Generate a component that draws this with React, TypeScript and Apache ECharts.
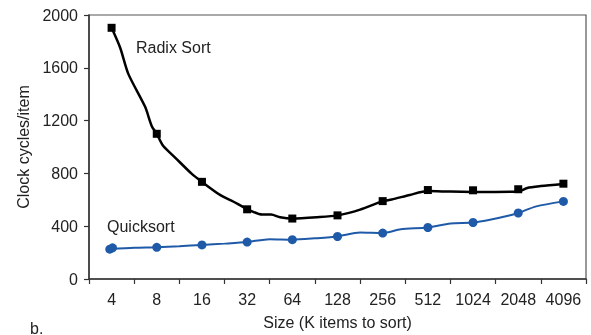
import React, { useEffect, useRef } from "react";
import * as echarts from "echarts";

const categories = ["4", "8", "16", "32", "64", "128", "256", "512", "1024", "2048", "4096"];
const yTicks = [0, 400, 800, 1200, 1600, 2000];

// markers at each category index
const radixMarkers: [number, number][] = [
  [0, 1903], [1, 1100], [2, 736], [3, 528], [4, 458], [5, 482],
  [6, 590], [7, 674], [8, 672], [9, 680], [10, 722],
];
const quickMarkers: [number, number][] = [
  [-0.04, 226], [0.02, 236], [1, 240], [2, 258], [3, 280], [4, 298], [5, 322],
  [6, 348], [7, 390], [8, 428], [9, 500], [10, 588],
];
// curve traces
const radixCurve: [number, number][] = [
  [0, 1903], [0.19, 1752], [0.37, 1554], [0.74, 1306], [0.89, 1158], [1, 1100],
  [1.14, 1009], [1.4, 922], [1.77, 798], [2, 736], [2.4, 637], [2.69, 587],
  [3, 530], [3.33, 488], [3.53, 488], [3.73, 468], [4, 458], [4.55, 468],
  [5, 482], [5.5, 526], [6, 590], [6.2, 602], [6.6, 637], [7, 666], [7.5, 662],
  [8, 660], [8.5, 660], [9, 662], [9.2, 690], [9.5, 704], [10, 720],
];
const quickCurve: [number, number][] = [
  [-0.04, 226], [0.5, 236], [1, 240], [1.5, 248], [2, 258], [2.5, 268], [3, 280],
  [3.5, 302], [4, 298], [4.5, 308], [5, 322], [5.5, 352], [6, 348], [6.4, 377],
  [7, 390], [7.5, 421], [8, 428], [8.4, 451], [8.8, 481], [9, 500], [9.4, 550],
  [10, 588],
];

const FONT = "Liberation Sans";
const TXT = "#222";
const FS = 16;

export default function App() {
  const ref = useRef<HTMLDivElement>(null);
  useEffect(() => {
    if (!ref.current) return;
    const chart = echarts.init(ref.current, undefined, { renderer: "svg" });
    chart.setOption({
      animation: false,
      textStyle: { fontFamily: FONT },
      grid: {
        left: 89, right: 5, top: 15, bottom: 51,
        show: true, borderColor: "#555", borderWidth: 1.2,
      },
      xAxis: [
        {
          type: "category",
          data: categories,
          boundaryGap: true,
          name: "Size (K items to sort)",
          nameLocation: "middle",
          nameGap: 35,
          nameTextStyle: { fontSize: FS, color: TXT, fontFamily: FONT },
          axisLine: { onZero: false, lineStyle: { color: "#333", width: 1.5 } },
          axisTick: { show: true, length: 5, inside: false, lineStyle: { color: "#333", width: 1.2 } },
          axisLabel: { fontSize: FS, color: TXT, margin: 12, fontFamily: FONT, interval: 0 },
          splitLine: { show: false },
        },
        {
          type: "value",
          min: -0.5,
          max: 10.5,
          show: false,
          axisLine: { show: false, onZero: false },
        },
      ],
      yAxis: {
        type: "value",
        min: yTicks[0],
        max: yTicks[yTicks.length - 1],
        interval: 400,
        name: "Clock cycles/item",
        nameLocation: "middle",
        nameGap: 52,
        nameTextStyle: { fontSize: FS, color: TXT, fontFamily: FONT },
        axisLine: { show: true, onZero: false, lineStyle: { color: "#333", width: 1.5 } },
        axisTick: { show: true, length: 5, lineStyle: { color: "#333", width: 1.2 } },
        axisLabel: {
          fontSize: FS, color: TXT, margin: 11, fontFamily: FONT,
          formatter: (v: number) => String(v),
        },
        splitLine: { show: false },
      },
      series: [
        {
          name: "Radix Sort line",
          type: "line",
          xAxisIndex: 1,
          data: radixCurve,
          smooth: 0.25,
          showSymbol: false,
          symbol: "none",
          lineStyle: { color: "#000", width: 2.5 },
          z: 2,
        },
        {
          name: "Radix Sort",
          type: "scatter",
          xAxisIndex: 1,
          data: radixMarkers,
          symbol: "rect",
          symbolSize: 8,
          itemStyle: { color: "#000", opacity: 1 },
          z: 3,
        },
        {
          name: "Quicksort line",
          type: "line",
          xAxisIndex: 1,
          data: quickCurve,
          smooth: 0.25,
          showSymbol: false,
          symbol: "none",
          lineStyle: { color: "#1f5aa8", width: 2 },
          z: 2,
        },
        {
          name: "Quicksort",
          type: "scatter",
          xAxisIndex: 1,
          data: quickMarkers,
          symbol: "circle",
          symbolSize: 9,
          itemStyle: { color: "#1f5aa8", opacity: 1 },
          z: 3,
        },
      ],
      graphic: [
        {
          type: "text", left: 136, top: 39,
          style: { text: "Radix Sort", fontSize: FS, fill: TXT, fontFamily: FONT },
        },
        {
          type: "text", left: 107, top: 218,
          style: { text: "Quicksort", fontSize: FS, fill: TXT, fontFamily: FONT },
        },
        {
          type: "text", left: 30, top: 320,
          style: { text: "b.", fontSize: FS, fill: TXT, fontFamily: FONT },
        },
      ],
    });
    return () => chart.dispose();
  }, []);
  return <div ref={ref} style={{ width: 591, height: 335, position: "fixed", left: 0, top: 0 }} />;
}
